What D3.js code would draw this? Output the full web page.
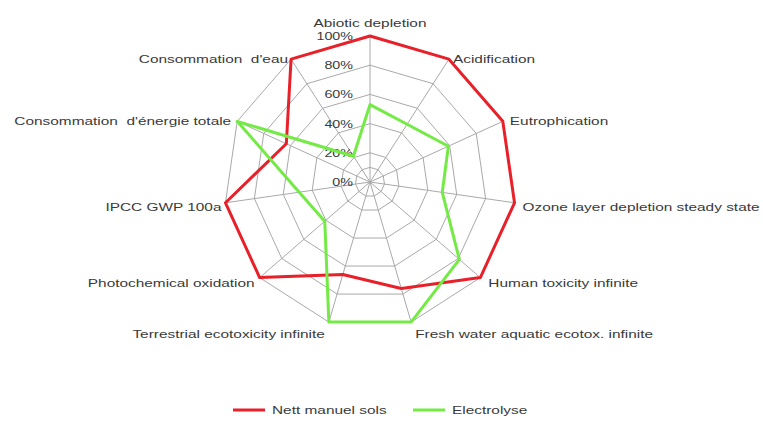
<!DOCTYPE html>
<html>
<head>
<meta charset="utf-8">
<script src="https://cdn.jsdelivr.net/npm/d3@7"></script>
<style>
  html, body { margin: 0; padding: 0; background: #fff; }
  svg text { font-family: "Liberation Sans", Arial, sans-serif; fill: #3a3a3a; }
</style>
</head>
<body>
<svg id="chart" width="763" height="422"></svg>
<script>
// Impact categories, clockwise from the top
const categories = [
  "Abiotic depletion",
  "Acidification",
  "Eutrophication",
  "Ozone layer depletion steady state",
  "Human toxicity infinite",
  "Fresh water aquatic ecotox. infinite",
  "Terrestrial ecotoxicity infinite",
  "Photochemical oxidation",
  "IPCC GWP 100a",
  "Consommation  d'énergie totale",
  "Consommation  d'eau"
];
// Relative scores (% of the worst scenario)
const nettManuel = [100, 100, 100, 100, 100, 76, 66, 100, 100, 63, 100];
const electrolyse = [53, 47, 59, 50, 81, 100, 100, 41, 49, 100, 21];
const seriesNames = ["Nett manuel sols", "Electrolyse"];
const seriesColors = ["#e8202a", "#74ea45"];
const tickValues = [0, 20, 40, 60, 80, 100];
const ringValues = [10, 20, 40, 60, 80, 100];

const svg = d3.select("#chart");
const cx = 370, cy = 182, R = 146;
const n = categories.length;

const r = d3.scaleLinear().domain([0, 100]).range([0, R]);
const angle = d3.scaleLinear().domain([0, n]).range([0, 2 * Math.PI]);
const pt = (i, v) => [cx + r(v) * Math.sin(angle(i)), cy - r(v) * Math.cos(angle(i))];

const g = svg.append("g");

// Web rings
ringValues.forEach(v => {
  g.append("polygon")
    .attr("points", d3.range(n).map(i => pt(i, v).join(",")).join(" "))
    .attr("fill", "none")
    .attr("stroke", "#a9a9a9")
    .attr("stroke-width", 1);
});

// Spokes
d3.range(n).forEach(i => {
  const [x, y] = pt(i, 100);
  g.append("line")
    .attr("x1", cx).attr("y1", cy).attr("x2", x).attr("y2", y)
    .attr("stroke", "#a9a9a9").attr("stroke-width", 1);
});

// Radial tick labels
const tickSx = 1.3;
const labelSx = 1.4;
g.selectAll("text.tick").data(tickValues).join("text")
  .attr("class", "tick")
  .attr("transform", d => `translate(${cx - 17},${cy - r(d) + 4}) scale(${tickSx},1)`)
  .attr("text-anchor", "end")
  .style("font-size", "11px")
  .text(d => d + "%");

// Series lines
const line = d3.line().curve(d3.curveLinearClosed);
[nettManuel, electrolyse].forEach((vals, s) => {
  g.append("path")
    .attr("d", line(vals.map((v, i) => pt(i, v))))
    .attr("fill", "none")
    .attr("stroke", seriesColors[s])
    .attr("stroke-width", 3)
    .attr("stroke-linejoin", "round");
});

// Category labels
const labelPos = [
  {dx: 0, dy: -13, anchor: "middle"},
  {dx: 4, dy: 0, anchor: "start"},
  {dx: 7, dy: 0, anchor: "start"},
  {dx: 8, dy: 4, anchor: "start"},
  {dx: 8, dy: 5, anchor: "start"},
  {dx: 4, dy: 12, anchor: "start"},
  {dx: -4, dy: 12, anchor: "end"},
  {dx: -5, dy: 5, anchor: "end"},
  {dx: -4, dy: 4, anchor: "end"},
  {dx: -6, dy: 0, anchor: "end"},
  {dx: -3, dy: 0, anchor: "end"}
];
categories.forEach((c, i) => {
  const [x, y] = pt(i, 100);
  const p = labelPos[i];
  g.append("text")
    .attr("transform", `translate(${x + p.dx},${y + p.dy + 4}) scale(${labelSx},1)`)
    .attr("text-anchor", p.anchor)
    .style("font-size", "11px")
    .style("white-space", "pre")
    .text(c);
});

// Legend
const legend = svg.append("g").attr("transform", "translate(233,410)");
const legendItems = [{x: 0}, {x: 180}];
seriesNames.forEach((name, s) => {
  const lg = legend.append("g").attr("transform", `translate(${legendItems[s].x},0)`);
  lg.append("line").attr("x1", 0).attr("x2", 32).attr("y1", 0).attr("y2", 0)
    .attr("stroke", seriesColors[s]).attr("stroke-width", 3);
  lg.append("text")
    .attr("transform", `translate(39,4) scale(${labelSx},1)`)
    .style("font-size", "11px")
    .text(name);
});
</script>
</body>
</html>
